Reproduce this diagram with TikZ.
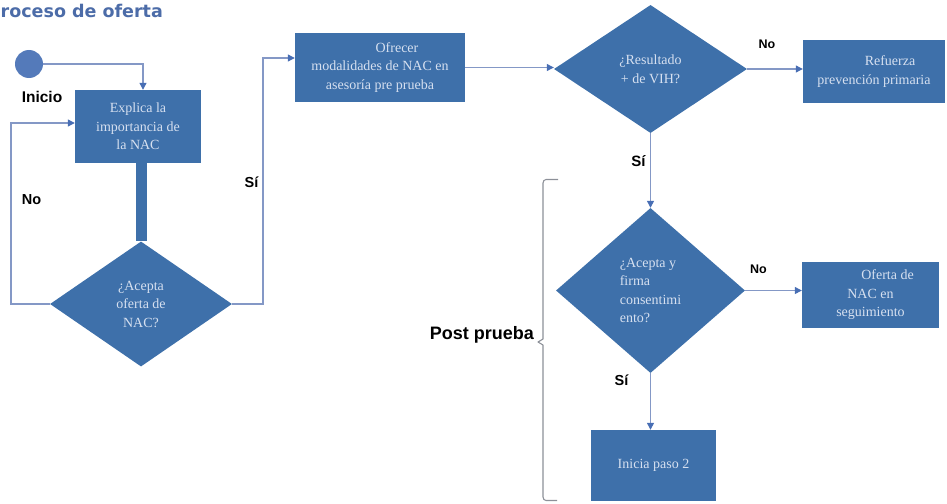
\documentclass[tikz,border=0pt]{standalone}
\usepackage{fontspec}
\setmainfont{Liberation Serif}
\newfontfamily\labfont{Liberation Sans}
\newfontfamily\titlefont{DejaVu Sans}
\usetikzlibrary{shapes.geometric,arrows.meta}

\definecolor{boxblue}{RGB}{62,112,170}
\definecolor{boxtext}{RGB}{214,224,240}
\definecolor{lineblue}{RGB}{132,152,198}
\definecolor{tipblue}{RGB}{72,110,180}
\definecolor{titleblue}{RGB}{76,108,168}
\definecolor{startblue}{RGB}{84,122,186}
\definecolor{bracegray}{RGB}{140,144,152}

\tikzset{
  boxfont/.style={font=\fontsize{14}{18.5}\selectfont},
  stepbox/.style={rectangle, fill=boxblue, text=boxtext, boxfont, align=center, inner sep=0pt},
  decision/.style={diamond, fill=boxblue, text=boxtext, boxfont, align=center, inner sep=0pt},
  flow/.style={draw=lineblue, line width=1.2pt, -{Triangle[length=7pt,width=7pt,color=tipblue]}},
  mainflow/.style={draw=boxblue, line width=11pt},
  lbl/.style={font=\labfont\bfseries, text=black, inner sep=0pt},
}

\begin{document}
\begin{tikzpicture}[x=1pt, y=-1pt]
\useasboundingbox (0,0) rectangle (947,503);

% heading
\node[anchor=base west, inner sep=0pt, text=titleblue,
      font=\titlefont\bfseries\fontsize{17.5}{17.5}\selectfont] (title) at (0.5,18) {roceso de oferta};

% start and first step
\node[circle, fill=startblue, minimum size=28pt, inner sep=0pt] (start) at (29,64) {};
\node[lbl, font=\labfont\bfseries\fontsize{15.5}{15.5}\selectfont] (inicio) at (42,97) {Inicio};

\node[stepbox, minimum width=126pt, minimum height=73pt] (box1) at (138,126.5)
  {Explica la\\importancia de\\la NAC};
\node[decision, minimum width=182pt, minimum height=125pt] (dia1) at (141,304)
  {¿Acepta\\oferta de\\NAC?};

% pre-test offer
\node[stepbox, minimum width=170pt, minimum height=69pt] (box2) at (380,67.5)
  {\hspace*{34pt}Ofrecer\\modalidades de NAC en\\asesoría pre prueba};
\node[decision, minimum width=193pt, minimum height=128pt] (dia2) at (650.5,69)
  {¿Resultado\\+ de VIH?};
\node[stepbox, minimum width=142pt, minimum height=63pt] (box3) at (874,71.5)
  {\hspace*{32pt}Refuerza\\prevención primaria};

% post-test
\node[decision, minimum width=189pt, minimum height=165pt, align=left] (dia3) at (650.5,290.5)
  {¿Acepta y\\firma\\consentimi\\ento?};
\node[stepbox, minimum width=137pt, minimum height=66pt] (box4) at (870.5,295)
  {\hspace*{34pt}Oferta de\\NAC en\\seguimiento};
\node[stepbox, minimum width=125pt, minimum height=71pt] (box5) at (653.5,465.5)
  {Inicia paso 2};

% connectors
\coordinate (noloop) at (11,304);
\coordinate (siloop) at (263,304);
\draw[flow] (start.east) -| ([xshift=5pt]box1.north);
\draw[mainflow] (box1.south -| dia1.north) -- (dia1.north);
\draw[flow] (dia1.west) -- (noloop) |- ([yshift=3.5pt]box1.west);
\draw[flow] (dia1.east) -- (siloop) |- ([yshift=9.5pt]box2.west);
\draw[flow] (box2.east) -- (box2.east -| dia2.west);
\draw[flow] (dia2.east) -- (dia2.east -| box3.west);
\draw[flow] (dia2.south) -- (dia3.north);
\draw[flow] (dia3.east) -- (dia3.east -| box4.west);
\draw[flow] (dia3.south) -- (dia3.south |- box5.north);

% branch labels
\node[lbl, font=\labfont\bfseries\fontsize{14.5}{14.5}\selectfont] (no1) at (31.5,200) {No};
\node[lbl, font=\labfont\bfseries\fontsize{14.5}{14.5}\selectfont] (si1) at (251.5,182) {Sí};
\node[lbl, font=\labfont\bfseries\fontsize{12.5}{12.5}\selectfont] (no2) at (767,44) {No};
\node[lbl, font=\labfont\bfseries\fontsize{15}{15}\selectfont] (si2) at (638.5,161) {Sí};
\node[lbl, font=\labfont\bfseries\fontsize{12.5}{12.5}\selectfont] (no3) at (758.5,269) {No};
\node[lbl, font=\labfont\bfseries\fontsize{14.5}{14.5}\selectfont] (si3) at (621.5,380) {Sí};

% bracket grouping the post-test steps
\draw[bracegray, line width=1.1pt, line join=round]
  (558,179.5) -- (546,179.5) to[out=180,in=90] (543,183) -- (543,339)
  -- (538,342) -- (543,345) -- (543,497) to[out=-90,in=180] (546,500.5) -- (557,500.5);
\node[lbl, anchor=east, font=\labfont\bfseries\fontsize{18}{18}\selectfont] (post) at (534,335) {Post prueba};
\end{tikzpicture}
\end{document}
